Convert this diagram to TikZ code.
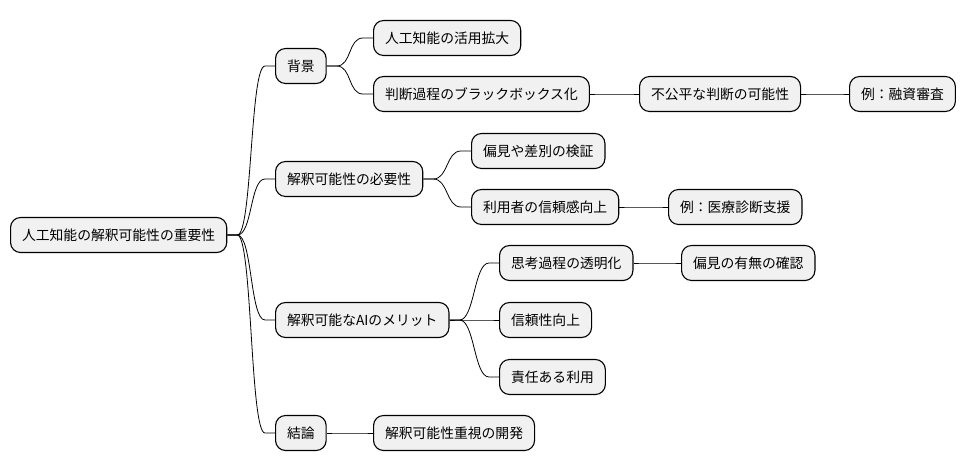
\documentclass[tikz,border=0pt]{standalone}
\usepackage{fontspec}
\setmainfont{Noto Sans CJK JP}
\usetikzlibrary{calc}
\definecolor{boxfill}{HTML}{F1F1F1}
\begin{document}
\begin{tikzpicture}[x=1pt,y=1pt,
  mm/.style={draw=black, line width=1.1pt, fill=boxfill, rounded corners=10pt,
    anchor=west, inner xsep=11.5pt, minimum height=35pt,
    font=\fontsize{13.8pt}{16pt}\selectfont},
  edge/.style={line width=0.8pt, to path={-- ++(10pt,0) .. controls +(15pt,0) and +(-15pt,0) .. ($(\tikztotarget)+(-10pt,0)$) -- (\tikztotarget)}}]
\useasboundingbox (0,0) rectangle (964,-471);
\node[mm] (root) at (10,-235) {人工知能の解釈可能性の重要性};
\node[mm] (bg) at (275,-66) {背景};
\node[mm] (n1) at (373,-38) {人工知能の活用拡大};
\node[mm] (n2) at (373,-94) {判断過程のブラックボックス化};
\node[mm] (n3) at (639,-94) {不公平な判断の可能性};
\node[mm] (n4) at (849,-94) {例：融資審査};
\node[mm] (need) at (275,-179) {解釈可能性の必要性};
\node[mm] (n5) at (471,-151) {偏見や差別の検証};
\node[mm] (n6) at (471,-207) {利用者の信頼感向上};
\node[mm] (n7) at (668,-207) {例：医療診断支援};
\node[mm] (merit) at (275,-320) {解釈可能なAIのメリット};
\node[mm] (n8) at (499,-263) {思考過程の透明化};
\node[mm] (n9) at (681,-263) {偏見の有無の確認};
\node[mm] (n10) at (499,-320) {信頼性向上};
\node[mm] (n11) at (499,-377) {責任ある利用};
\node[mm] (concl) at (275,-433) {結論};
\node[mm] (n12) at (373,-433) {解釈可能性重視の開発};
\draw[edge] (root.east) to (bg.west);
\draw[edge] (root.east) to (need.west);
\draw[edge] (root.east) to (merit.west);
\draw[edge] (root.east) to (concl.west);
\draw[edge] (bg.east) to (n1.west);
\draw[edge] (bg.east) to (n2.west);
\draw[edge] (n2.east) to (n3.west);
\draw[edge] (n3.east) to (n4.west);
\draw[edge] (need.east) to (n5.west);
\draw[edge] (need.east) to (n6.west);
\draw[edge] (n6.east) to (n7.west);
\draw[edge] (merit.east) to (n8.west);
\draw[edge] (merit.east) to (n10.west);
\draw[edge] (merit.east) to (n11.west);
\draw[edge] (n8.east) to (n9.west);
\draw[edge] (concl.east) to (n12.west);
\end{tikzpicture}
\end{document}
